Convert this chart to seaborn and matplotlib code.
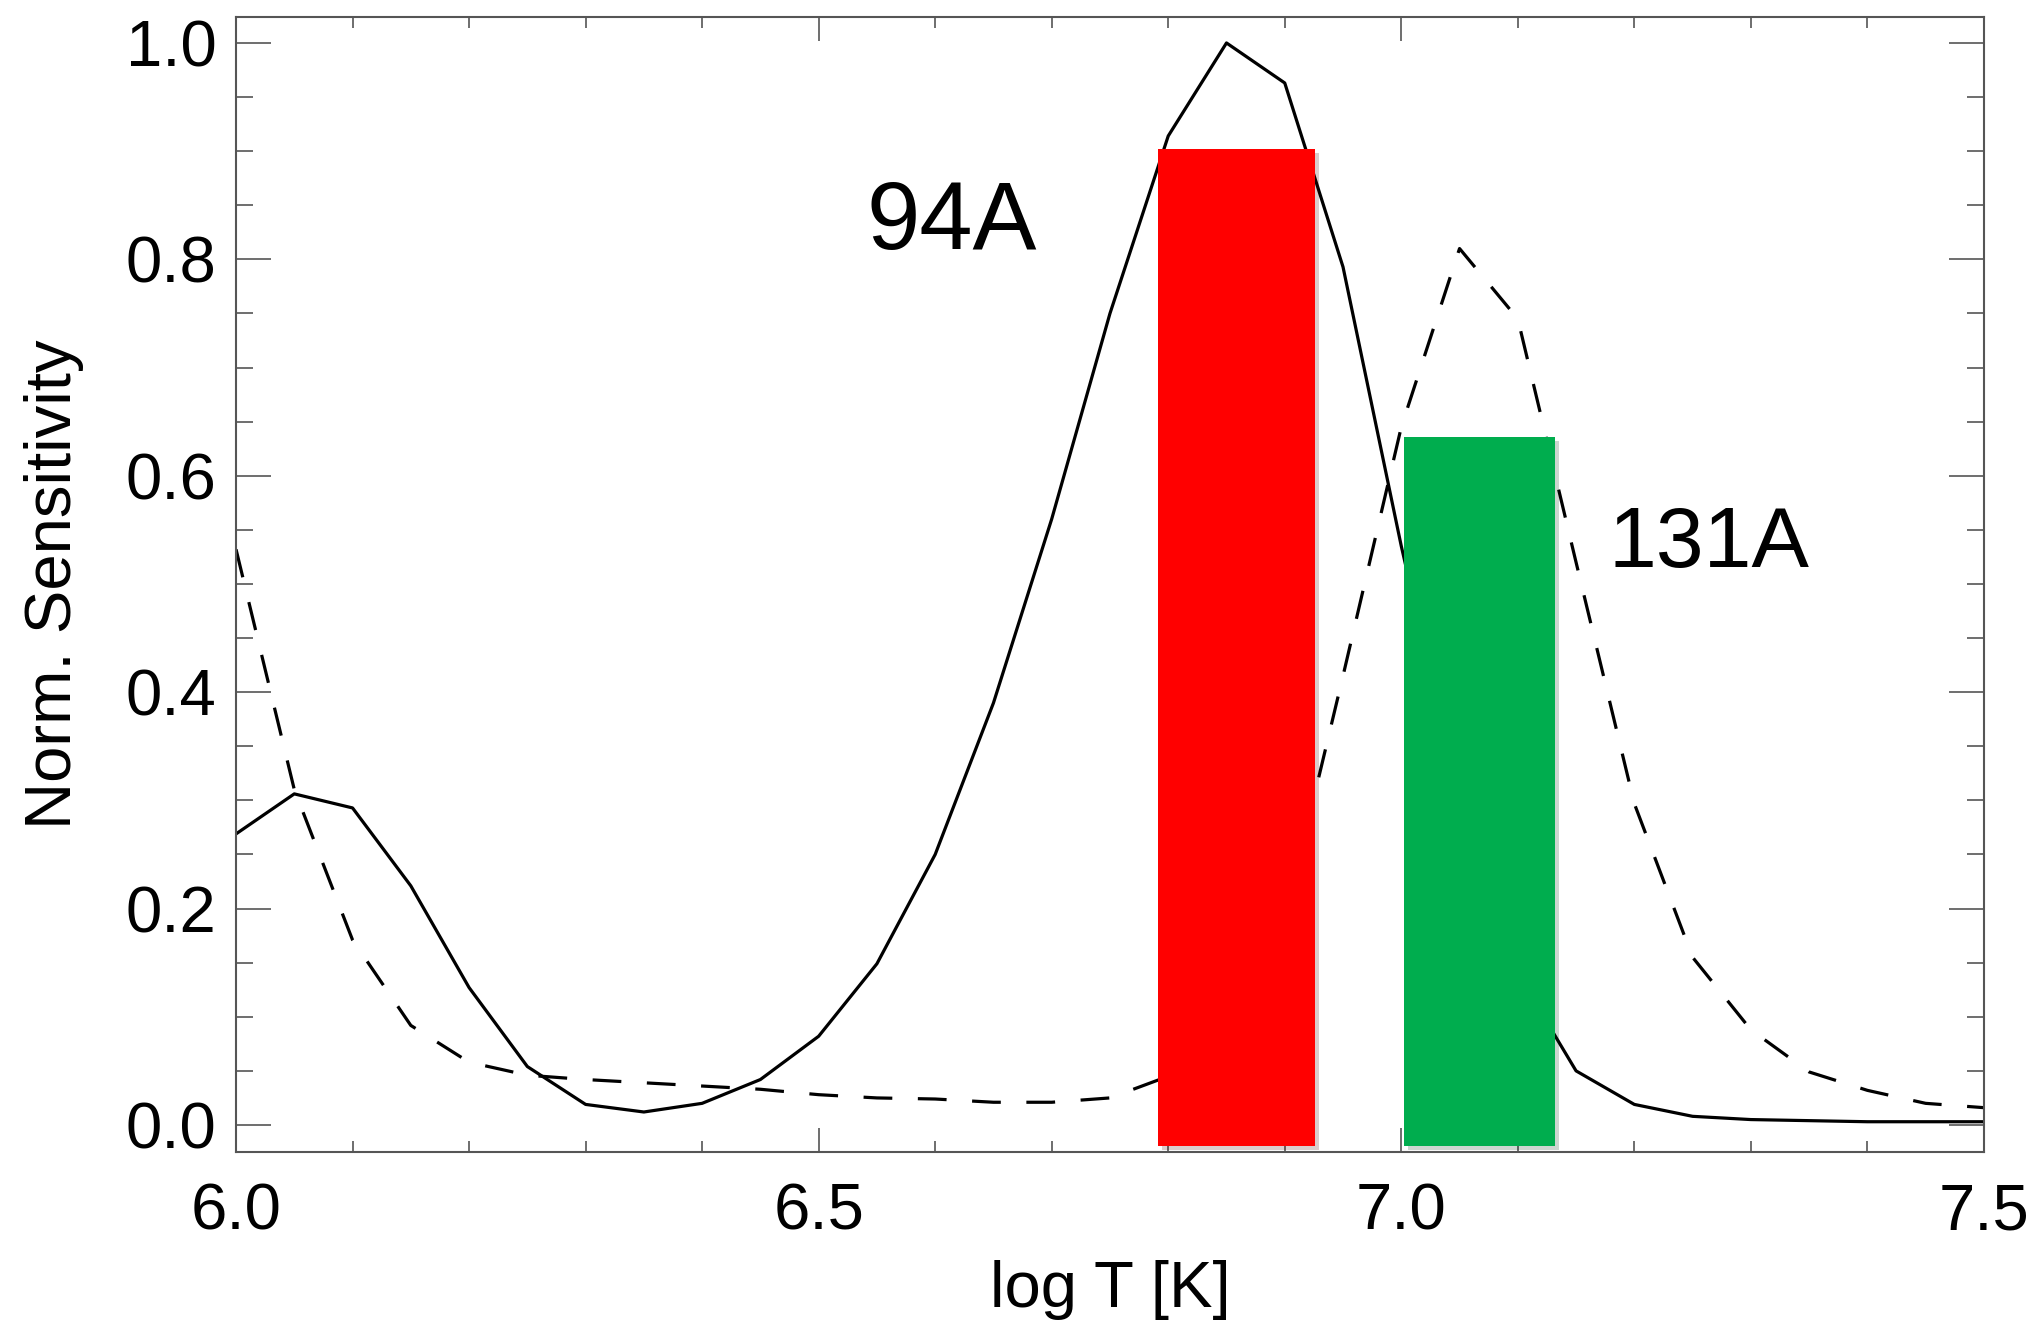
import numpy as np
import pandas as pd
import matplotlib
matplotlib.use("Agg")
import matplotlib.pyplot as plt
import matplotlib.patheffects as pe
from matplotlib.ticker import MultipleLocator, FormatStrFormatter
import seaborn as sns

# ---- data ----
log_t = [6.00, 6.05, 6.10, 6.15, 6.20, 6.25, 6.30, 6.35, 6.40, 6.45, 6.50,
         6.55, 6.60, 6.65, 6.70, 6.75, 6.80, 6.85, 6.90, 6.95, 7.00, 7.05,
         7.10, 7.15, 7.20, 7.25, 7.30, 7.35, 7.40, 7.45, 7.50]
sens_94 = [0.269, 0.306, 0.293, 0.221, 0.127, 0.054, 0.019, 0.012, 0.020, 0.042, 0.082,
           0.149, 0.250, 0.390, 0.560, 0.750, 0.914, 1.000, 0.963, 0.793, 0.535, 0.300,
           0.140, 0.050, 0.019, 0.008, 0.005, 0.004, 0.003, 0.003, 0.003]
sens_131 = [0.532, 0.310, 0.171, 0.092, 0.058, 0.046, 0.042, 0.039, 0.036, 0.033, 0.028,
            0.025, 0.024, 0.021, 0.021, 0.025, 0.045, 0.100, 0.190, 0.415, 0.645, 0.810,
            0.745, 0.520, 0.297, 0.155, 0.088, 0.049, 0.032, 0.020, 0.016]

band_names = ["94A", "131A"]
band_lo = [6.791, 7.002]
band_hi = [6.926, 7.132]
band_top = [0.902, 0.636]
band_bottom = -0.019
band_colors = ["#FF0000", "#00AD4E"]

df = pd.DataFrame({"logT": log_t, "s94": sens_94, "s131": sens_131})

# ---- style ----
sns.set_theme(style="ticks")
plt.rcParams["font.family"] = ["Liberation Sans", "DejaVu Sans"]

fig = plt.figure(figsize=(20.4, 13.26), dpi=100)
ax = fig.add_axes([0.1157, 0.1312, 0.9725 - 0.1157, 0.9872 - 0.1312])

sns.lineplot(data=df, x="logT", y="s94", ax=ax, color="black", lw=2.3,
             zorder=2)
sns.lineplot(data=df, x="logT", y="s131", ax=ax, color="black", lw=2.3,
             linestyle=(0, (9, 8)), zorder=2)

for lo, hi, top, c in zip(band_lo, band_hi, band_top, band_colors):
    ax.bar(lo, top - band_bottom, width=hi - lo, bottom=band_bottom, align="edge",
           color=c, lw=0, zorder=3,
           path_effects=[pe.SimplePatchShadow(offset=(3, -3), alpha=0.2),
                         pe.Normal()])

ax.text(6.541, 0.810, band_names[0], fontsize=69, ha="left", va="baseline",
        color="black", zorder=5)
ax.text(7.178, 0.516, band_names[1], fontsize=62, ha="left", va="baseline",
        color="black", zorder=5)

ax.set_xlim(6.0, 7.5)
ax.set_ylim(-0.025, 1.024)

ax.xaxis.set_major_locator(MultipleLocator(0.5))
ax.xaxis.set_minor_locator(MultipleLocator(0.1))
ax.yaxis.set_major_locator(MultipleLocator(0.2))
ax.yaxis.set_minor_locator(MultipleLocator(0.05))
ax.xaxis.set_major_formatter(FormatStrFormatter("%.1f"))
ax.yaxis.set_major_formatter(FormatStrFormatter("%.1f"))

spine_c = "#555555"
for s in ax.spines.values():
    s.set_visible(True)
    s.set_color(spine_c)
    s.set_linewidth(1.5)

ax.tick_params(axis="both", which="both", direction="in", top=True, right=True,
               color=spine_c, width=1.2, labelcolor="black", labelsize=47)
ax.tick_params(axis="x", which="major", length=17, pad=22)
ax.tick_params(axis="x", which="minor", length=8)
ax.tick_params(axis="y", which="major", length=25, pad=14)
ax.tick_params(axis="y", which="minor", length=12)

ax.set_xlabel("log T [K]", fontsize=47, color="black")
ax.set_ylabel("Norm. Sensitivity", fontsize=47, color="black")
ax.xaxis.set_label_coords(0.5, -0.095)
ax.yaxis.set_label_coords(-0.087, 0.50)

fig.savefig("out.png", dpi=100)
